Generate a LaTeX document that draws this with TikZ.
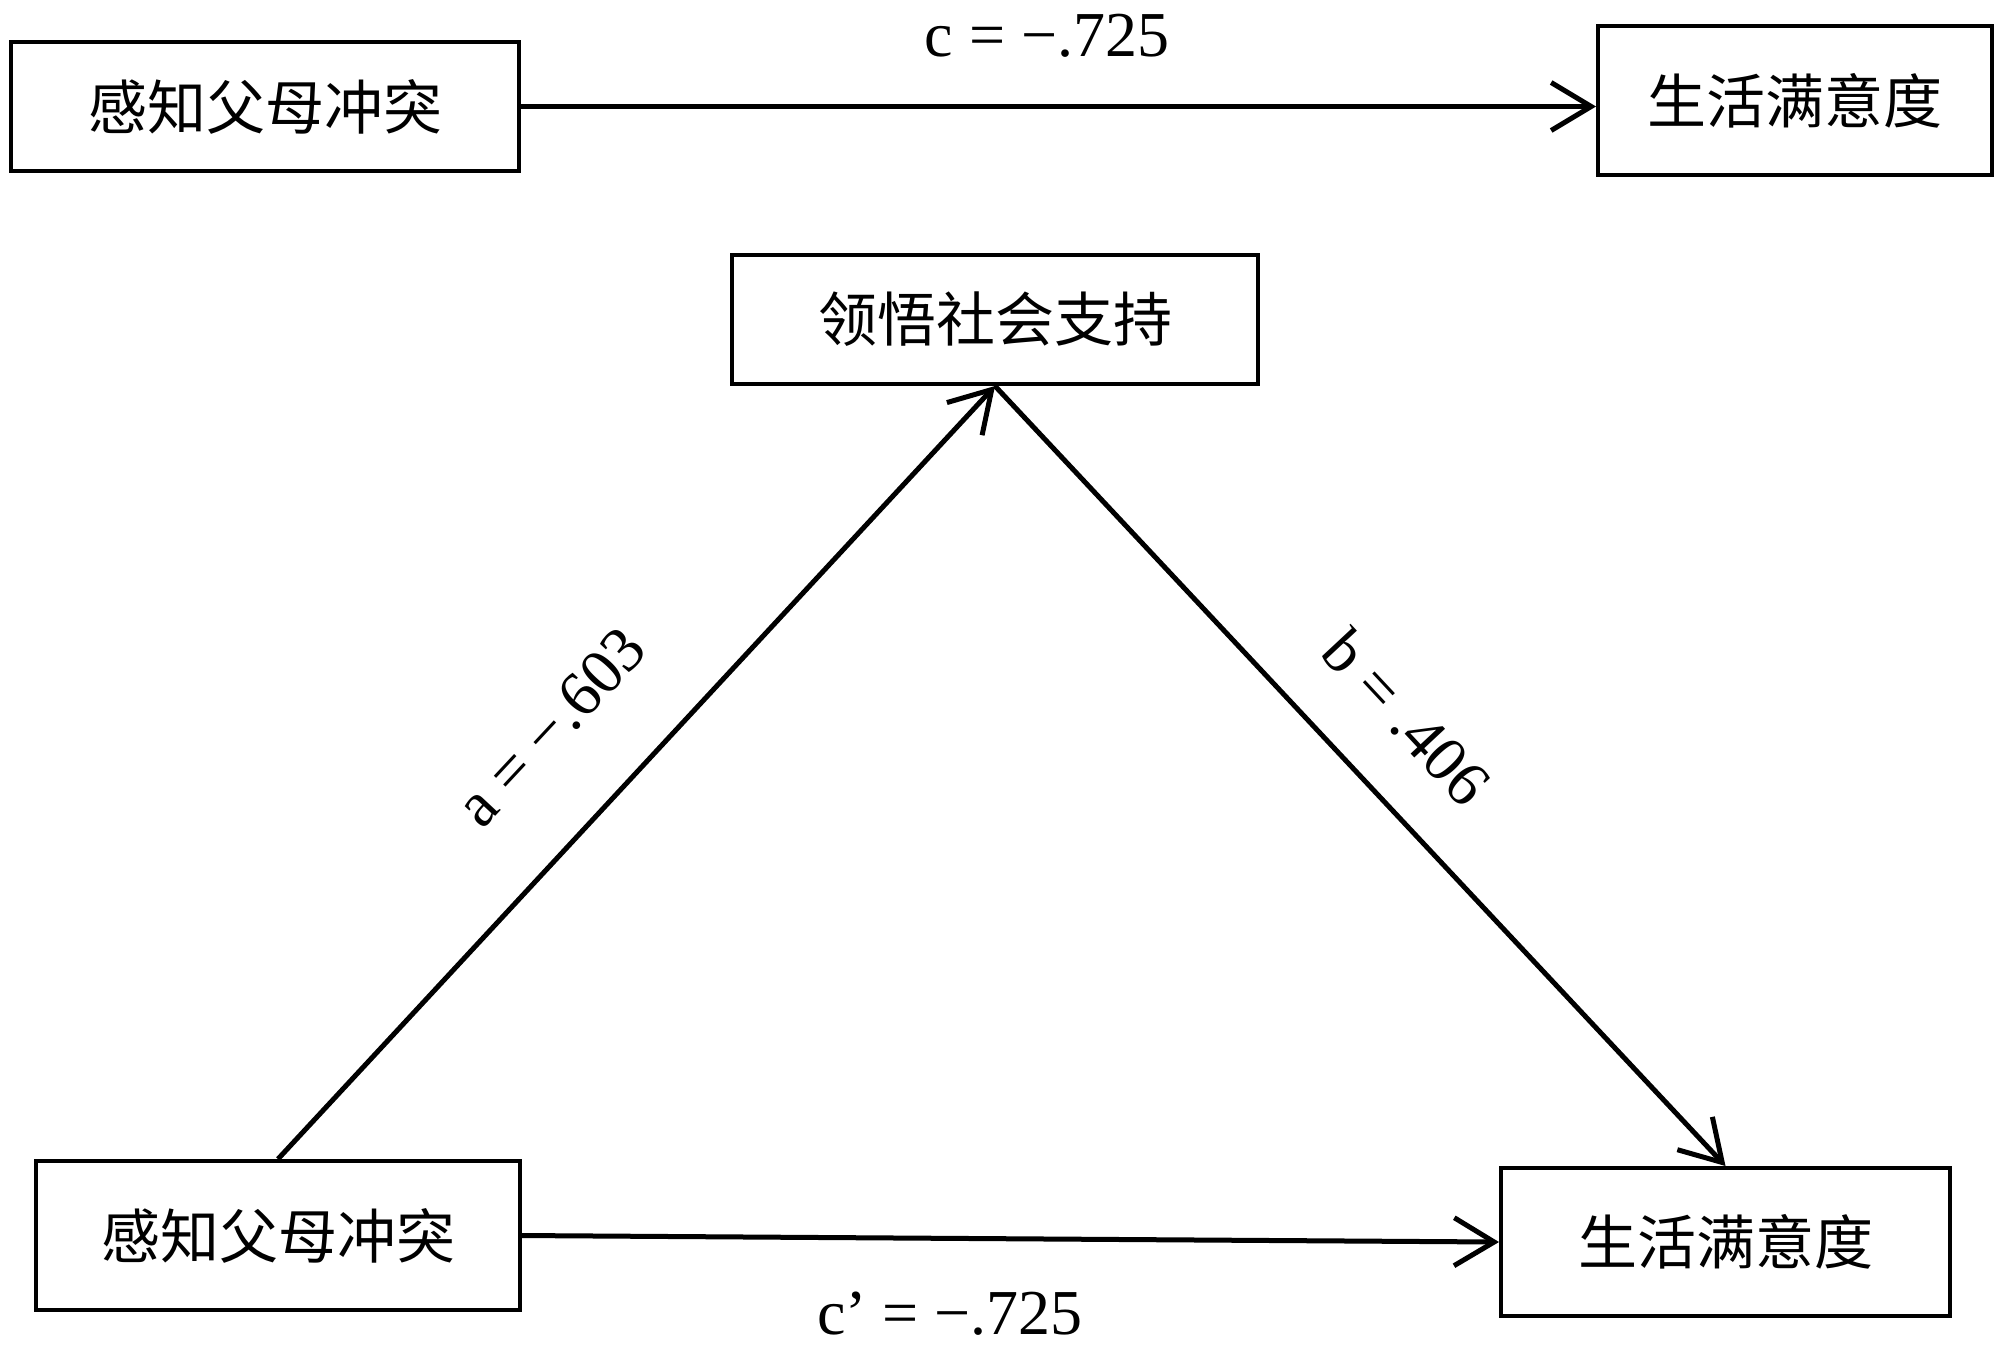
\documentclass[tikz,border=0pt]{standalone}
\usepackage{fontspec}
\setmainfont{Liberation Serif}
\newfontfamily\cjk{Noto Sans CJK SC}
\usetikzlibrary{arrows.meta,calc}
\tikzset{
  varbox/.style={draw=black, line width=2pt, inner sep=0pt, font=\cjk\fontsize{29.5}{32}\selectfont},
  conn/.style={line width=2.5pt, -{Straight Barb[length=20pt,width=24pt,line width=2.5pt]}},
  coef/.style={font=\fontsize{32}{36}\selectfont, inner sep=0pt}
}
\begin{document}
\begin{tikzpicture}[x=0.5pt,y=-0.5pt]
\useasboundingbox (0,0) rectangle (2000,1346);
% top model
\node[varbox, minimum width=254pt, minimum height=64.5pt] (TL) at (265,106.5) {感知父母冲突};
\node[varbox, minimum width=197pt, minimum height=74.5pt] (TR) at (1795,100.5) {生活满意度};
\coordinate (TRin) at (TL.east -| TR.west);
\draw[conn] (TL.east) -- (TRin);
\node[coef] (lc) at (1047,36) {c = −.725};
% mediation model
\node[varbox, minimum width=263pt, minimum height=64.5pt] (M) at (995,319.5) {领悟社会支持};
\node[varbox, minimum width=242pt, minimum height=74.5pt] (BL) at (278,1235.5) {感知父母冲突};
\node[varbox, minimum width=224.5pt, minimum height=74pt] (BR) at (1725.5,1242) {生活满意度};
\draw[conn] (BL.north) -- (M.south);
\draw[conn] (M.south) -- (BR.north);
\draw[conn] (BL.east) -- (BR.west);
\node[coef, rotate=47] (la) at (551,727) {a = −.603};
\node[coef, rotate=-47] (lb) at (1407,717) {b = .406};
\node[coef] (lcp) at (950,1314) {c’ = −.725};
\end{tikzpicture}
\end{document}
